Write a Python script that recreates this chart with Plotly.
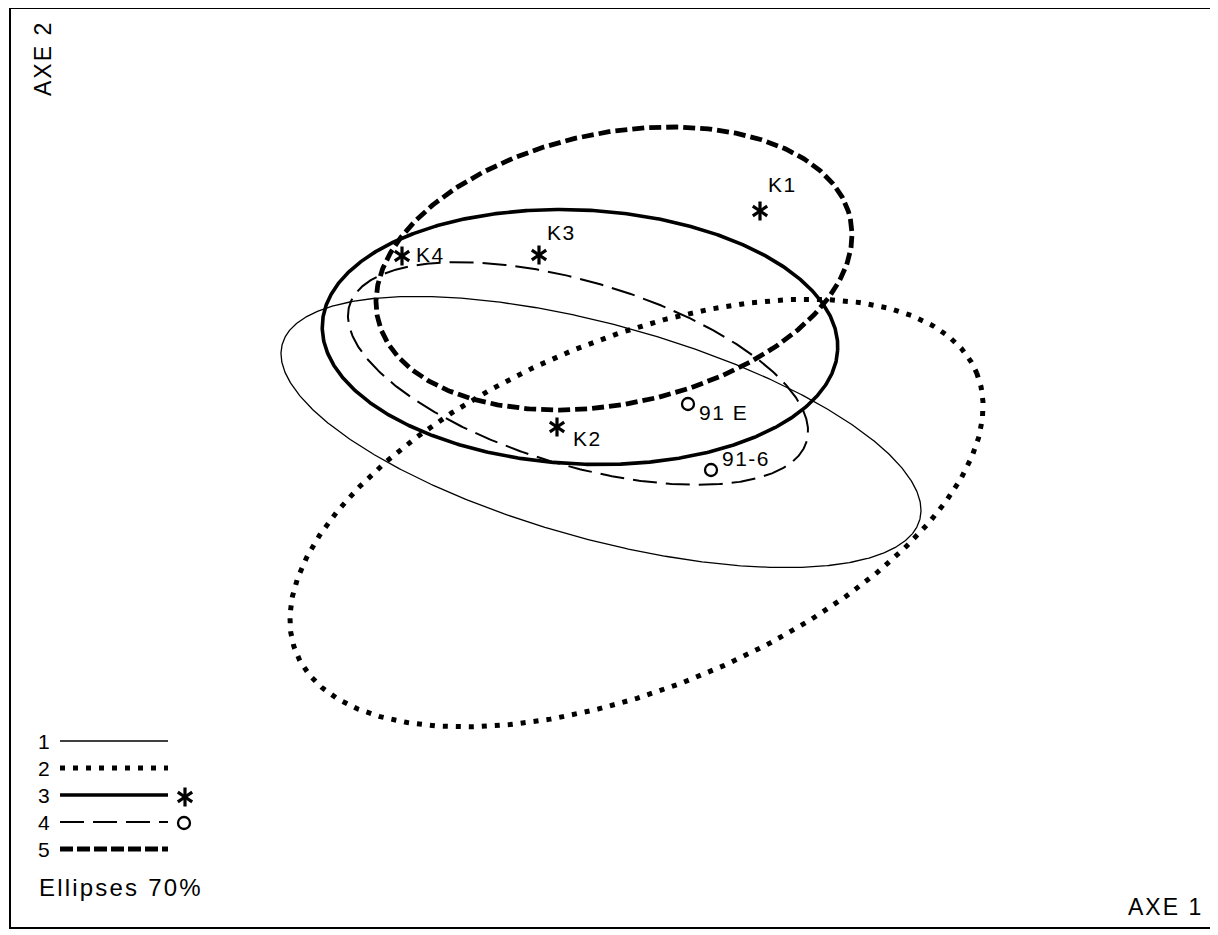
import numpy as np
import plotly.graph_objects as go

# ---------------- data ----------------
ellipse_ids = ["1", "2", "3", "4", "5"]
center_x = [601.0, 636.5, 580.0, 578.0, 614.0]
center_y = [432.0, 513.0, 337.0, 373.5, 268.5]
semi_major = [330.6, 367.9, 258.0, 238.5, 241.5]
semi_minor = [107.2, 174.7, 127.0, 91.9, 135.5]
tilt_deg = [15.4, -22.4, 2.9, 16.6, -11.8]

star_names = ["K1", "K2", "K3", "K4"]
star_x = [760, 557, 539, 402]
star_y = [211, 427, 255, 256]

circle_names = ["91 E", "91-6"]
circle_x = [688, 711]
circle_y = [404, 470]

# ---------------- styles ----------------
FONT = "Liberation Sans, Arial, Helvetica, sans-serif"
LBL = 21
line_styles = {
    "1": dict(color="black", width=1.3, dash="solid"),
    "2": dict(color="black", width=5, dash="5px,8px"),
    "3": dict(color="black", width=3.6, dash="solid"),
    "4": dict(color="black", width=2.0, dash="24px,9px"),
    "5": dict(color="black", width=4.8, dash="12px,5px"),
}
star_label_offsets = {"K1": (22, -27), "K2": (30, 11), "K3": (22, -23), "K4": (28, -2)}
circle_label_offsets = {"91 E": (35, 8), "91-6": (35, -12)}


def spaced(s, px):
    return '<span style="letter-spacing:%spx">%s</span>' % (px, s)


fig = go.Figure()

t = np.linspace(0, 2 * np.pi, 721)
for eid, cx, cy, a, b, ang in zip(ellipse_ids, center_x, center_y, semi_major, semi_minor, tilt_deg):
    th = np.radians(ang)
    xs = cx + a * np.cos(t) * np.cos(th) - b * np.sin(t) * np.sin(th)
    ys = cy + a * np.cos(t) * np.sin(th) + b * np.sin(t) * np.cos(th)
    fig.add_trace(go.Scatter(x=xs, y=ys, mode="lines", line=line_styles[eid],
                             showlegend=False, hoverinfo="skip"))


def add_stars(xs, ys):
    for sym in ["y-up-open", "y-down-open"]:
        fig.add_trace(go.Scatter(x=xs, y=ys, mode="markers",
                                 marker=dict(symbol=sym, size=12, color="black",
                                             line=dict(width=3.2, color="black")),
                                 showlegend=False, hoverinfo="skip"))


def add_circles(xs, ys):
    fig.add_trace(go.Scatter(x=xs, y=ys, mode="markers",
                             marker=dict(symbol="circle-open", size=12, color="black",
                                         line=dict(width=2.3, color="black")),
                             showlegend=False, hoverinfo="skip"))


add_stars(star_x, star_y)
add_circles(circle_x, circle_y)

annotations = []
for n, x, y in zip(star_names, star_x, star_y):
    dx, dy = star_label_offsets[n]
    annotations.append(dict(x=x, y=y, text=spaced(n, 1.5), showarrow=False, xshift=dx, yshift=-dy,
                            font=dict(family=FONT, size=LBL, color="black")))
for n, x, y in zip(circle_names, circle_x, circle_y):
    dx, dy = circle_label_offsets[n]
    annotations.append(dict(x=x, y=y, text=spaced(n, 1.5), showarrow=False, xshift=dx, yshift=-dy,
                            font=dict(family=FONT, size=LBL, color="black")))

# legend (drawn manually)
leg_y = [741, 768, 795, 822, 849]
for eid, ly in zip(ellipse_ids, leg_y):
    annotations.append(dict(x=44, y=ly, text=eid, showarrow=False, xanchor="center",
                            font=dict(family=FONT, size=LBL, color="black")))
    st = dict(line_styles[eid])
    if eid == "5":
        st["dash"] = "13px,4px"
    fig.add_trace(go.Scatter(x=[60, 168], y=[ly, ly], mode="lines", line=st,
                             showlegend=False, hoverinfo="skip"))
add_stars([185], [797])
add_circles([184], [823])

annotations.append(dict(x=37, y=887, text=spaced("Ellipses 70%", 2.2), showarrow=False, xanchor="left",
                        font=dict(family=FONT, size=24, color="black")))
annotations.append(dict(x=1205, y=907, text=spaced("AXE 1", 2), showarrow=False, xanchor="right",
                        font=dict(family=FONT, size=23, color="black")))
annotations.append(dict(x=43, y=59, text=spaced("AXE 2", 2), showarrow=False, textangle=-90,
                        font=dict(family=FONT, size=23, color="black")))

# frame
shapes = [dict(type="rect", xref="x", yref="y", x0=10, y0=8, x1=1240, y1=928,
               line=dict(color="black", width=2))]

# page body has an 8px margin: the figure is offset so data units match page pixels
fig.update_layout(
    width=1210, height=927,
    margin=dict(l=0, r=0, t=0, b=0),
    paper_bgcolor="white", plot_bgcolor="white",
    xaxis=dict(range=[8, 1218], visible=False, fixedrange=True),
    yaxis=dict(range=[935, 8], visible=False, fixedrange=True),
    annotations=annotations, shapes=shapes,
)

fig.write_html("out.html")
